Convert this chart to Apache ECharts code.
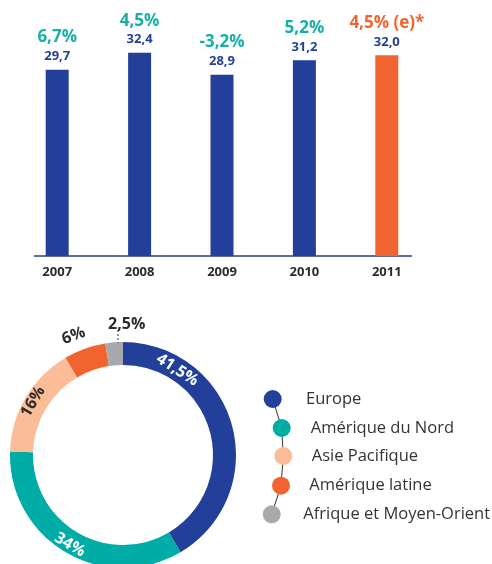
<!DOCTYPE html>
<html><head><meta charset="utf-8">
<script src="https://cdn.jsdelivr.net/npm/echarts@6/dist/echarts.min.js"></script>
<style>html,body{margin:0;padding:0;background:#fff}#c{width:492px;height:564px}</style>
</head><body><div id="c"></div>
<script>
const years = ['2007', '2008', '2009', '2010', '2011'];
const revenue = [29.7, 32.4, 28.9, 31.2, 32.0];
const growth = ['6,7%', '4,5%', '-3,2%', '5,2%', '4,5% (e)*'];
const estimatedIndex = 4;

const regions = ['Europe', 'Amérique du Nord', 'Asie Pacifique', 'Amérique latine', 'Afrique et Moyen-Orient'];
const shares = [41.5, 34, 16, 6, 2.5];

const BLUE = '#233f99', ORANGE = '#f2642f', TEAL = '#19afa7';
const pieColors = ['#22409a', '#00aca6', '#fbbd97', '#f2642f', '#a8a9ad'];
const pieLabelColors = ['#ffffff', '#ffffff', '#2b2b2b', '#2b2b2b', '#2b2b2b'];
const PIE_C = [123, 455];
// label placement (angle clockwise from top, radius, rotation) — null keeps default
const pieLabelPlace = [
  { a: 32.5, r: 101, rot: -32.5 },
  null,
  null,
  { a: 337.5, r: 129, rot: 20 },
  { a: 1.6, r: 131, rot: 0 }
];
const FONT = 'Open Sans';

const fmt = v => String(v).replace('.', ',');

const chart = echarts.init(document.getElementById('c'), null, { renderer: 'canvas' });

const legendCfg = [
  { cx: 272.7, cy: 399, tx: 306 },
  { cx: 281.7, cy: 428, tx: 310.7 },
  { cx: 283.3, cy: 456, tx: 311.7 },
  { cx: 281, cy: 485.7, tx: 309.3 },
  { cx: 271.7, cy: 514.3, tx: 303.3 }
];
const ICON = 18;

chart.setOption({
  animation: false,
  backgroundColor: '#fff',
  textStyle: { fontFamily: FONT },
  grid: { left: 16, width: 412, top: 5, height: 251 },
  xAxis: {
    type: 'category', data: years,
    axisLine: { show: false }, axisTick: { show: false },
    axisLabel: { color: '#2b2b2b', fontWeight: 'bold', fontSize: 13, margin: 10, fontFamily: FONT }
  },
  yAxis: { type: 'value', min: 0, max: 40, show: false },
  legend: legendCfg.map((c, i) => ({
    data: [regions[i]],
    left: c.cx - ICON / 2, top: c.cy - ICON / 2,
    orient: 'horizontal', padding: 0,
    icon: 'circle', itemWidth: ICON, itemHeight: ICON,
    selectedMode: false, z: 5,
    textStyle: { color: '#333', fontSize: 16.5, fontFamily: FONT, lineHeight: ICON,
      padding: [0, 0, 0, c.tx - (c.cx - ICON / 2) - ICON - 5] }
  })),
  graphic: [
    { type: 'line', z: 1, shape: { x1: 34, y1: 256, x2: 412, y2: 256 }, style: { stroke: BLUE, lineWidth: 1.5 } },
    { type: 'polyline', z: 0, shape: { points: legendCfg.map(c => [c.cx, c.cy]) }, style: { stroke: '#333', lineWidth: 1, fill: null } },
    { type: 'line', z: 10, shape: { x1: 118, y1: 330, x2: 118, y2: 343 }, style: { stroke: '#333', lineWidth: 1, lineDash: [2, 2] } }
  ],
  series: [
    {
      type: 'bar',
      data: revenue.map((v, i) => ({ value: v, itemStyle: { color: i === estimatedIndex ? ORANGE : BLUE } })),
      barWidth: 23,
      label: {
        show: true, position: 'top', distance: 5,
        formatter: p => `{${p.dataIndex === estimatedIndex ? 'po' : 'p'}|${growth[p.dataIndex]}}\n{v|${revenue[p.dataIndex].toFixed(1).replace('.', ',')}}`,
        rich: {
          p: { color: TEAL, fontSize: 17, fontWeight: 'bold', lineHeight: 22, fontFamily: FONT },
          po: { color: ORANGE, fontSize: 17, fontWeight: 'bold', lineHeight: 22, fontFamily: FONT },
          v: { color: BLUE, fontSize: 13, fontWeight: 'bold', lineHeight: 16, fontFamily: FONT }
        }
      }
    },
    {
      type: 'pie',
      center: PIE_C, radius: [90, 113],
      startAngle: 90, clockwise: true,
      avoidLabelOverlap: false,
      data: regions.map((n, i) => ({
        name: n, value: shares[i],
        itemStyle: { color: pieColors[i] },
        label: { color: pieLabelColors[i] }
      })),
      label: {
        show: true, position: 'inside', rotate: 'tangential',
        formatter: p => fmt(p.value) + '%',
        fontSize: 16, fontWeight: 'bold', fontFamily: FONT
      },
      labelLine: { show: false },
      labelLayout: p => {
        const pl = pieLabelPlace[p.dataIndex];
        if (!pl) return {};
        const rad = pl.a * Math.PI / 180;
        return {
          x: PIE_C[0] + pl.r * Math.sin(rad),
          y: PIE_C[1] - pl.r * Math.cos(rad),
          align: 'center', verticalAlign: 'middle', rotate: pl.rot
        };
      },
      emphasis: { disabled: true }
    }
  ]
});
</script></body></html>
